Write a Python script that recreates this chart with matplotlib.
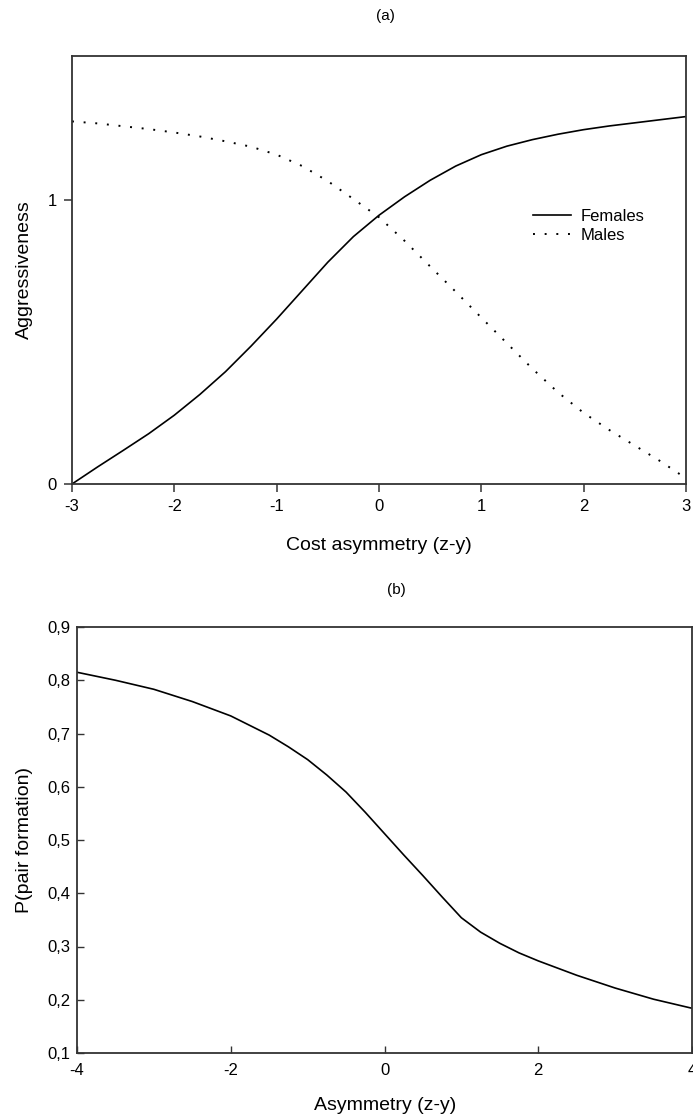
import matplotlib
matplotlib.use("Agg")
import matplotlib.pyplot as plt

plt.rcParams['font.family'] = ['Liberation Sans', 'DejaVu Sans']

# panel (a): aggressiveness vs cost asymmetry
cost_x = [-3.0, -2.75, -2.5, -2.25, -2.0, -1.75, -1.5, -1.25, -1.0, -0.75, -0.5, -0.25,
          0.0, 0.25, 0.5, 0.75, 1.0, 1.25, 1.5, 1.75, 2.0, 2.25, 2.5, 2.75, 3.0]
females = [0.000, 0.060, 0.118, 0.177, 0.242, 0.315, 0.395, 0.485, 0.580, 0.680, 0.780, 0.870,
           0.945, 1.010, 1.068, 1.118, 1.158, 1.188, 1.211, 1.230, 1.246, 1.259, 1.270, 1.281, 1.292]
males = [1.275, 1.268, 1.258, 1.248, 1.236, 1.222, 1.205, 1.186, 1.158, 1.118, 1.065, 1.002,
         0.938, 0.855, 0.765, 0.676, 0.585, 0.495, 0.405, 0.322, 0.250, 0.190, 0.135, 0.080, 0.020]

# panel (b): probability of pair formation vs asymmetry
asym_x = [-4.0, -3.5, -3.0, -2.5, -2.0, -1.5, -1.25, -1.0, -0.75, -0.5, -0.25, 0.0, 0.25,
          0.5, 0.75, 1.0, 1.25, 1.5, 1.75, 2.0, 2.5, 3.0, 3.5, 4.0]
p_pair = [0.815, 0.800, 0.783, 0.760, 0.733, 0.697, 0.675, 0.651, 0.622, 0.590, 0.552, 0.512, 0.472,
          0.433, 0.393, 0.354, 0.327, 0.306, 0.288, 0.273, 0.246, 0.222, 0.201, 0.184]

a_xticks = [-3, -2, -1, 0, 1, 2, 3]
a_yticks = [0, 1]
b_xticks = [-4, -2, 0, 2, 4]
b_yticks = [0.1, 0.2, 0.3, 0.4, 0.5, 0.6, 0.7, 0.8, 0.9]
b_ylabels = ['0,1', '0,2', '0,3', '0,4', '0,5', '0,6', '0,7', '0,8', '0,9']

W, H = 693, 1119
fig = plt.figure(figsize=(W / 100, H / 100), dpi=100)


def px_axes(x0, y0, x1, y1):
    return fig.add_axes([x0 / W, 1 - y1 / H, (x1 - x0) / W, (y1 - y0) / H])


spine_col = '#333333'

# ---- (a)
ax1 = px_axes(72, 56, 686, 484)
ax1.plot(cost_x, females, color='black', lw=1.2, label='Females')
ax1.plot(cost_x, males, color='black', lw=1.4, linestyle=(0, (1, 5)), label='Males')
ax1.set_xlim(-3, 3)
ax1.set_ylim(0, 1.505)
ax1.set_xticks(a_xticks)
ax1.set_xticklabels([str(t) for t in a_xticks])
ax1.set_yticks(a_yticks)
ax1.tick_params(direction='out', length=6, width=1.1, labelsize=12, pad=5, color=spine_col)
ax1.set_xlabel('Cost asymmetry (z-y)', fontsize=14, va='center')
ax1.xaxis.set_label_coords(0.5, (484 - 545) / 428)
ax1.set_ylabel('Aggressiveness', fontsize=14, va='center')
ax1.yaxis.set_label_coords((24 - 72) / 614, 0.5)
for s in ax1.spines.values():
    s.set_color(spine_col)
    s.set_linewidth(1.3)
leg = ax1.legend(loc='upper left', bbox_to_anchor=((526 - 72) / 614, (484 - 202) / 428),
                 frameon=False, fontsize=12, handlelength=2.3, handletextpad=0.6,
                 labelspacing=0.25, borderaxespad=0)
fig.text(385 / W, 1 - 16 / H, '(a)', ha='center', va='center', fontsize=11)

# ---- (b)
ax2 = px_axes(77, 627, 692, 1053)
ax2.plot(asym_x, p_pair, color='black', lw=1.2)
ax2.set_xlim(-4, 4)
ax2.set_ylim(0.1, 0.9)
ax2.set_xticks(b_xticks)
ax2.set_xticklabels([str(t) for t in b_xticks])
ax2.set_yticks(b_yticks)
ax2.set_yticklabels(b_ylabels)
ax2.tick_params(direction='in', length=5, width=1.0, labelsize=12, color=spine_col)
ax2.tick_params(axis='x', pad=7)
ax2.tick_params(axis='y', pad=5)
ax2.set_xlabel('Asymmetry (z-y)', fontsize=14, va='center')
ax2.xaxis.set_label_coords((385 - 77) / 615, (1053 - 1105) / 426)
ax2.set_ylabel('P(pair formation)', fontsize=14, va='center')
ax2.yaxis.set_label_coords((25 - 77) / 615, 0.5)
for s in ax2.spines.values():
    s.set_color(spine_col)
    s.set_linewidth(1.3)
fig.text(396 / W, 1 - 590 / H, '(b)', ha='center', va='center', fontsize=11)

fig.savefig('out.png', dpi=100)
